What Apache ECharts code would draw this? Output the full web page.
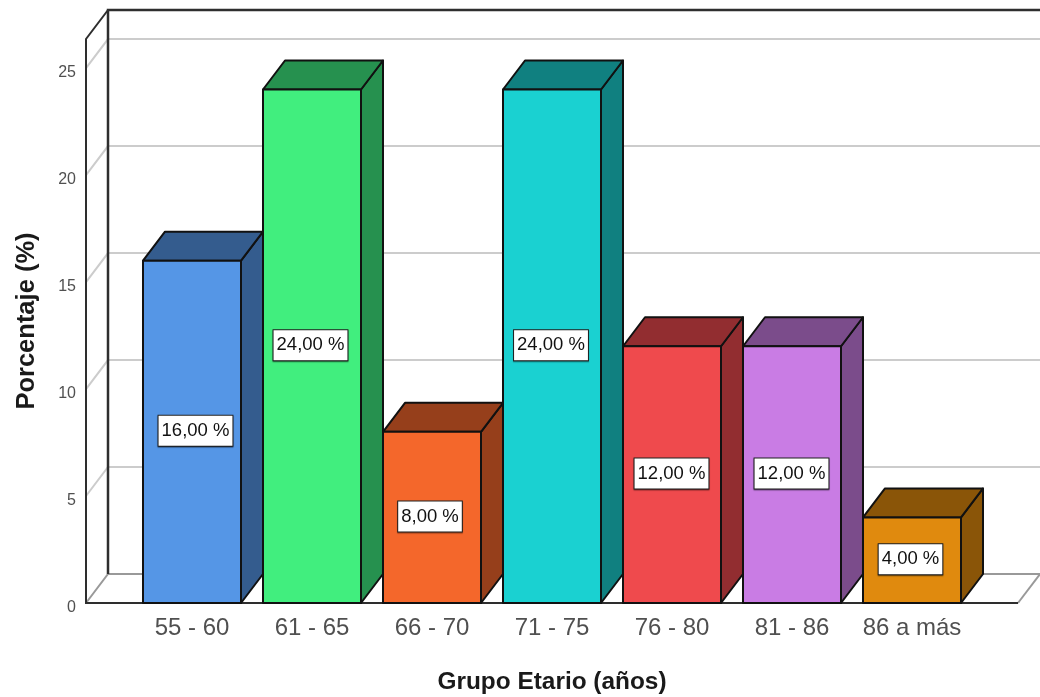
<!DOCTYPE html>
<html>
<head>
<meta charset="utf-8">
<style>html,body{margin:0;padding:0;background:#fff}#chart{width:1040px;height:697px}</style>
<script src="https://cdn.jsdelivr.net/npm/echarts@6/dist/echarts.min.js"></script>
</head>
<body>
<div id="chart"></div>
<script>
const categories = ["55 - 60", "61 - 65", "66 - 70", "71 - 75", "76 - 80", "81 - 86", "86 a más"];
const porcentajes = [16, 24, 8, 24, 12, 12, 4];
const yTicks = [0, 5, 10, 15, 20, 25];
const yMax = 26.36;

const frontColors = ["#5596e6", "#41ee7e", "#f4672b", "#1ad1d1", "#ef4a4d", "#c97ce4", "#e08a0e"];
const darkColors = ["#345c8e", "#26914f", "#963f1b", "#108080", "#922d30", "#7b4c8b", "#8a5508"];
const labelShift = [3.5, -1.5, -2, -1, -0.5, -0.5, -1.5]; // las etiquetas no estan centradas del todo

// profundidad del efecto 3D, en px
const depthX = 22;
const depthY = -29;
const wallLeft = 46; // la pared izquierda queda fuera de la banda de categorias
const wallRight = 46;

function line(points, stroke, width) {
  return {
    type: "polyline",
    shape: { points },
    style: { stroke, lineWidth: width, fill: null }
  };
}

// paredes y lineas de division
function renderFrame(params, api) {
  const cs = params.coordSys;
  const x0 = cs.x - wallLeft;
  const x1 = cs.x + cs.width + wallRight;
  const top = api.coord([0, yMax])[1];
  const base = api.coord([0, 0])[1];
  const children = [];

  yTicks.forEach((t) => {
    const y = api.coord([0, t])[1];
    if (t === 0) return;
    children.push(line([[x0, y], [x0 + depthX, y + depthY], [x1 + depthX, y + depthY]], "#cccccc", 2));
  });
  children.push(line([[x0, base], [x0 + depthX, base + depthY], [x1 + depthX, base + depthY]], "#999999", 2));
  children.push(line([[x1, base], [x1 + depthX, base + depthY]], "#999999", 2));
  children.push(line([[x0 + depthX, base + depthY], [x0 + depthX, top + depthY], [x1 + depthX, top + depthY]], "#2e2e2e", 2.5));
  children.push(line([[x0 + depthX, top + depthY], [x0, top], [x0, base], [x1, base]], "#2e2e2e", 2));
  return { type: "group", children };
}

function renderBar(params, api) {
  const idx = api.value(0);
  const val = api.value(1);
  const w = api.size([1, 0])[0] * 0.8167;
  const topPt = api.coord([idx, val]);
  const basePt = api.coord([idx, 0]);
  const xl = topPt[0] - w / 2;
  const xr = topPt[0] + w / 2;
  const yt = topPt[1];
  const yb = basePt[1];
  const edge = { stroke: "#111111", lineWidth: 2, lineJoin: "round" };
  const i = params.dataIndex;
  const texto = val.toFixed(2).replace(".", ",") + " %";

  return {
    type: "group",
    children: [
      {
        type: "polygon",
        shape: { points: [[xr, yb], [xr + depthX, yb + depthY], [xr + depthX, yt + depthY], [xr, yt]] },
        style: { fill: darkColors[i], ...edge }
      },
      {
        type: "polygon",
        shape: { points: [[xl, yt], [xl + depthX, yt + depthY], [xr + depthX, yt + depthY], [xr, yt]] },
        style: { fill: darkColors[i], ...edge }
      },
      {
        type: "rect",
        shape: { x: xl, y: yt, width: w, height: yb - yt },
        style: { fill: frontColors[i], ...edge }
      },
      {
        type: "text",
        style: {
          text: texto,
          x: topPt[0] + labelShift[i],
          y: (yt + yb) / 2 - 1,
          align: "center",
          verticalAlign: "middle",
          fontFamily: "Liberation Sans",
          fontSize: 18.5,
          fill: "#111111",
          backgroundColor: "#ffffff",
          borderColor: "#222222",
          borderWidth: 1,
          padding: [6, 3, 5, 3],
          shadowColor: "rgba(0,0,0,0.4)",
          shadowBlur: 1,
          shadowOffsetY: 1
        }
      }
    ]
  };
}

const chart = echarts.init(document.getElementById("chart"), null, { renderer: "canvas" });

chart.setOption({
  backgroundColor: "#ffffff",
  animation: false,
  grid: { left: 132, right: 68, top: 39, bottom: 94, outerBoundsMode: "none" },
  xAxis: {
    type: "category",
    data: categories,
    axisLine: { show: false },
    axisTick: { show: false },
    axisLabel: {
      interval: 0,
      color: "#505050",
      fontFamily: "Liberation Sans",
      fontSize: 24,
      margin: 13
    },
    name: "Grupo Etario (años)",
    nameLocation: "middle",
    nameGap: 67,
    nameTextStyle: { color: "#1a1a1a", fontFamily: "Liberation Sans", fontWeight: "bold", fontSize: 24.4 }
  },
  yAxis: {
    type: "value",
    min: 0,
    max: yMax,
    interval: 5,
    offset: wallLeft,
    axisLine: { show: false },
    axisTick: { show: false },
    splitLine: { show: false },
    axisLabel: {
      color: "#505050",
      fontFamily: "Liberation Sans",
      fontSize: 16,
      margin: 10,
      showMaxLabel: false,
      verticalAlign: "top",
      lineHeight: 9
    },
    name: "Porcentaje (%)",
    nameLocation: "middle",
    nameGap: 46,
    nameTextStyle: { color: "#1a1a1a", fontFamily: "Liberation Sans", fontWeight: "bold", fontSize: 25.5 }
  },
  series: [
    {
      type: "custom",
      data: [[0, 0]],
      clip: false,
      silent: true,
      z: 1,
      renderItem: renderFrame
    },
    {
      type: "custom",
      data: porcentajes.map((v, i) => [i, v]),
      encode: { x: 0, y: 1 },
      clip: false,
      z: 2,
      renderItem: renderBar
    }
  ]
});
</script>
</body>
</html>
